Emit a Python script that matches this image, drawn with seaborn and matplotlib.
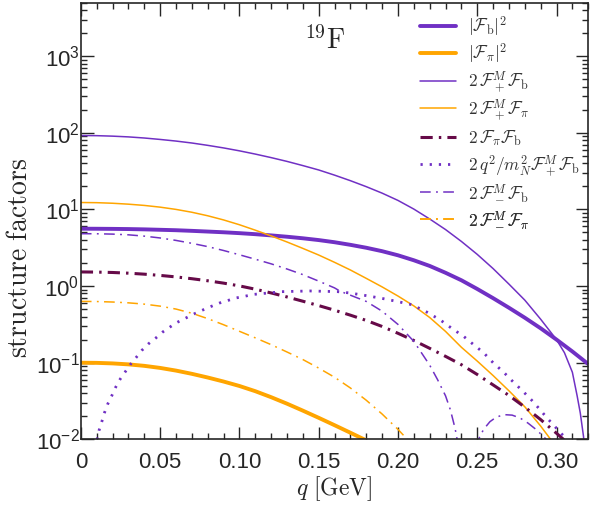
import numpy as np
import pandas as pd
import matplotlib
matplotlib.use("Agg")
import matplotlib.pyplot as plt
import seaborn as sns

sns.set_style("ticks")
plt.rcParams["font.family"] = ["Liberation Sans", "DejaVu Sans"]
plt.rcParams["mathtext.fontset"] = "custom"
plt.rcParams["mathtext.rm"] = "Liberation Sans"
plt.rcParams["mathtext.it"] = "Liberation Sans:italic"

# ---------- values ----------
q_grid = [0, 0.01, 0.02, 0.03, 0.04, 0.05, 0.06, 0.07, 0.08, 0.09, 0.10, 0.11, 0.12, 0.13, 0.14, 0.15, 0.16,
          0.17, 0.18, 0.19, 0.20, 0.21, 0.22, 0.23, 0.24, 0.25, 0.26, 0.27, 0.28, 0.29, 0.30, 0.31, 0.32]

# |F_b|^2
fb2 = [5.60, 5.59, 5.57, 5.54, 5.49, 5.42, 5.35, 5.25, 5.14, 5.03, 4.90, 4.75, 4.58, 4.40, 4.20, 3.98, 3.73,
       3.45, 3.16, 2.85, 2.52, 2.17, 1.83, 1.49, 1.19, 0.916, 0.695, 0.521, 0.386, 0.281, 0.200, 0.140, 0.096]

# |F_pi|^2
q_fpi2 = q_grid[:19]
fpi2 = [0.100, 0.0995, 0.0979, 0.0951, 0.0910, 0.0855, 0.0789, 0.0716, 0.0641, 0.0568, 0.0497, 0.0425,
        0.0355, 0.0292, 0.0237, 0.0191, 0.0153, 0.0122, 0.0097]

# 2 F+^M F_b
q_fpb = q_grid[:31] + [0.305, 0.31, 0.313, 0.315, 0.317, 0.318]
fpb = [92.0, 91.6, 90.3, 88.3, 85.4, 81.8, 77.9, 73.5, 68.5, 63.4, 58.1, 52.7, 47.4, 42.3, 37.3, 32.7, 28.0,
       23.7, 19.8, 16.3, 13.1, 10.1, 7.50, 5.46, 3.82, 2.59, 1.69, 1.06, 0.655, 0.369, 0.200,
       0.135, 0.075, 0.037, 0.022, 0.011, 0.0065]

# 2 F+^M F_pi
q_fppi = q_grid[:31]
fppi = [12.3, 12.24, 12.03, 11.7, 11.27, 10.7, 10.0, 9.18, 8.26, 7.29, 6.31, 5.36, 4.51, 3.76, 3.10, 2.54, 2.04,
        1.62, 1.26, 0.975, 0.741, 0.551, 0.389, 0.256, 0.159, 0.105, 0.068, 0.043, 0.0266, 0.0149, 0.0079]

# 2 F_pi F_b
q_pib = q_grid[:32]
pib = [1.528, 1.521, 1.503, 1.472, 1.429, 1.377, 1.316, 1.247, 1.172, 1.092, 1.005, 0.910, 0.813, 0.721, 0.634,
       0.556, 0.484, 0.417, 0.356, 0.297, 0.242, 0.195, 0.154, 0.121, 0.0942, 0.0702, 0.0513, 0.0374, 0.0263,
       0.0181, 0.0120, 0.0079]

# 2 q^2/m_N^2 F+^M F_b
q_q2 = [0.0102, 0.0115, 0.0133, 0.015, 0.017, 0.0195, 0.022, 0.0248, 0.028, 0.0311, 0.0349, 0.0385, 0.0426,
        0.0473, 0.0517, 0.06, 0.0717, 0.08, 0.0874, 0.098, 0.1095, 0.1268, 0.1443, 0.162, 0.17, 0.18, 0.19,
        0.1994, 0.2089, 0.218, 0.2268, 0.234, 0.2415, 0.248, 0.254, 0.26, 0.2667, 0.272, 0.279, 0.284, 0.2899,
        0.294, 0.298, 0.302, 0.3046, 0.3088]
q2fb = [0.0099, 0.0131, 0.0172, 0.0225, 0.029, 0.037, 0.048, 0.061, 0.076, 0.094, 0.117, 0.145, 0.176,
        0.21, 0.252, 0.33, 0.436, 0.52, 0.60, 0.70, 0.78, 0.845, 0.863, 0.845, 0.81, 0.75, 0.69,
        0.63, 0.57, 0.46, 0.36, 0.28, 0.22, 0.17, 0.135, 0.10, 0.075, 0.058, 0.042, 0.033, 0.024,
        0.019, 0.0155, 0.0125, 0.011, 0.0085]

# 2 F-^M F_b (two lobes)
q_mb = q_grid[:17] + [0.1637, 0.17, 0.18, 0.19, 0.20, 0.21, 0.22, 0.225, 0.23, 0.233, 0.236, 0.2375]
mb = [4.82, 4.81, 4.76, 4.66, 4.48, 4.24, 3.94, 3.61, 3.27, 2.91, 2.56, 2.24, 1.95, 1.67, 1.41, 1.16, 0.946,
      0.853, 0.76, 0.63, 0.47, 0.316, 0.19, 0.093, 0.060, 0.037, 0.0245, 0.014, 0.0095]
q_mb2 = [0.249, 0.251, 0.254, 0.258, 0.262, 0.267, 0.272, 0.277, 0.282, 0.287, 0.292, 0.295]
mb2 = [0.0080, 0.0102, 0.0135, 0.0170, 0.0195, 0.0210, 0.0207, 0.0190, 0.0163, 0.0135, 0.0108, 0.0092]

# 2 F-^M F_pi
q_mpi = q_grid[:22]
mpi = [0.631, 0.628, 0.619, 0.604, 0.581, 0.547, 0.501, 0.442, 0.376, 0.313, 0.257, 0.211, 0.172, 0.138,
       0.110, 0.0851, 0.0646, 0.0468, 0.0324, 0.0214, 0.0135, 0.0081]

purple = "#7030c4"
orange = "#ffa500"
maroon = "#660a48"
dashdot = (0, (7, 3.5, 1.2, 3.5))

fig = plt.figure(figsize=(5.9, 5.05), dpi=100)
ax = fig.add_axes([0.137, 0.130, 0.860, 0.865])

series = [
    (q_grid, fb2, r"$|\mathcal{F}_{\rm b}|^2$", purple, 2.8, "-"),
    (q_fpi2, fpi2, r"$|\mathcal{F}_\pi|^2$", orange, 2.8, "-"),
    (q_fpb, fpb, r"$2\,\mathcal{F}_+^M\mathcal{F}_{\rm b}$", purple, 1.1, "-"),
    (q_fppi, fppi, r"$2\,\mathcal{F}_+^M\mathcal{F}_\pi$", orange, 1.1, "-"),
    (q_pib, pib, r"$2\,\mathcal{F}_\pi\mathcal{F}_{\rm b}$", maroon, 2.2, (0, (4, 2, 0.8, 2))),
    (q_q2, q2fb, r"$2\,q^2/m_N^2\mathcal{F}_+^M\mathcal{F}_{\rm b}$", purple, 2.0, (0, (0.8, 2.5))),
    (q_mb, mb, r"$2\,\mathcal{F}_-^M\mathcal{F}_{\rm b}$", purple, 1.1, dashdot),
    (q_mpi, mpi, r"$2\,\mathcal{F}_-^M\mathcal{F}_\pi$", orange, 1.1, dashdot),
]
for qq, vv, lab, col, lw, ls in series:
    sns.lineplot(x=qq, y=vv, ax=ax, label=lab, color=col, lw=lw, linestyle=ls)

# second lobe, no legend entry
sns.lineplot(x=q_mb2, y=mb2, ax=ax, color=purple, lw=1.1, linestyle=dashdot)

ax.set_yscale("log")
ax.set_xlim(0, 0.32)
ax.set_ylim(1e-2, 5e3)
ax.set_xticks([0, 0.05, 0.10, 0.15, 0.20, 0.25, 0.30])
ax.set_xticklabels(["0", "0.05", "0.10", "0.15", "0.20", "0.25", "0.30"])
ax.set_xticks(np.arange(0, 0.321, 0.01), minor=True)
ax.tick_params(which="both", direction="in", top=True, right=True, labelsize=16, width=1)
ax.tick_params(which="major", length=9)
ax.tick_params(which="minor", length=4.5)
ax.tick_params(axis="x", pad=9)
ax.tick_params(axis="y", pad=1)
for s in ax.spines.values():
    s.set_linewidth(1.2)

xl = ax.set_xlabel(r"$q\ [\mathrm{GeV}]$", fontsize=17, labelpad=1)
yl = ax.set_ylabel(r"$\mathrm{structure\ factors}$", fontsize=20)
ax.yaxis.set_label_coords(-0.094, 0.416)
xl.set_math_fontfamily("cm")
yl.set_math_fontfamily("cm")

t = ax.text(0.481, 0.893, r"$^{19}\mathrm{F}$", transform=ax.transAxes, fontsize=20, ha="center")
t.set_math_fontfamily("cm")

# legend: one row per entry at evenly spaced heights
handles, labels = ax.get_legend_handles_labels()
ax.get_legend().remove()
row_y = [0.944, 0.883, 0.818, 0.755, 0.690, 0.626, 0.564, 0.502]
for h, lab, yy in zip(handles, labels, row_y):
    leg = ax.legend([h], [lab], loc="center left", bbox_to_anchor=(0.668, yy), frameon=False,
                    fontsize=12.5, handlelength=2.1, handletextpad=0.7, borderpad=0, borderaxespad=0)
    for txt in leg.get_texts():
        txt.set_math_fontfamily("cm")
        txt.set_color("#333333")
    ax.add_artist(leg)

fig.savefig("out.png", dpi=100)
